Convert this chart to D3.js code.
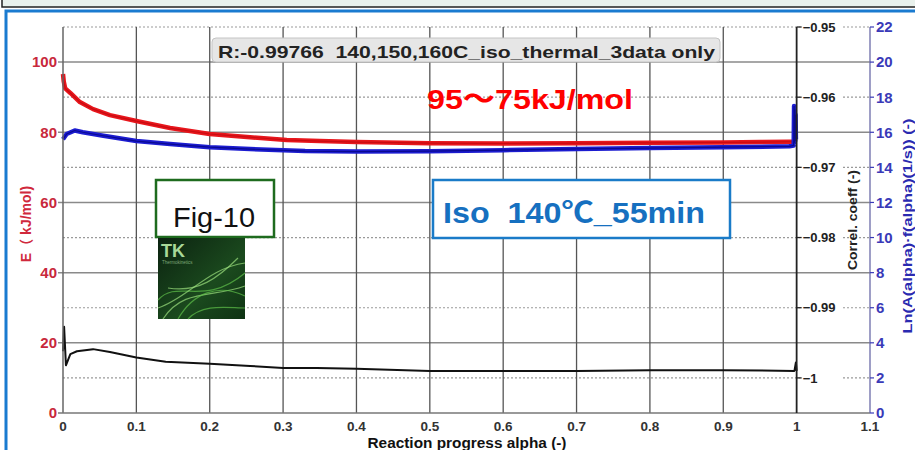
<!DOCTYPE html>
<html><head>
<meta charset="utf-8">
<script src="https://cdnjs.cloudflare.com/ajax/libs/d3/7.8.5/d3.min.js"></script>
<style>
  body { margin: 0; background: #fff; }
  svg text { font-family: "Liberation Sans", Arial, "Noto Sans CJK JP", sans-serif; white-space: pre; }
</style>
</head>
<body>
<script>
// ---- data ----
var xTicks = [0, 0.1, 0.2, 0.3, 0.4, 0.5, 0.6, 0.7, 0.8, 0.9, 1, 1.1];
var eTicks = [0, 20, 40, 60, 80, 100];
var lnTicks = [0, 2, 4, 6, 8, 10, 12, 14, 16, 18, 20, 22];
var corrTicks = [-0.95, -0.96, -0.97, -0.98, -0.99, -1];

// activation energy E (kJ/mol), left axis
var alphaE = [0, 0.001, 0.003, 0.01, 0.023, 0.041, 0.064, 0.1, 0.146, 0.2, 0.255, 0.305, 0.35, 0.4, 0.5, 0.6, 0.7, 0.8, 0.9, 0.95, 0.99, 0.997];
var energy = [96.6, 94.5, 92.5, 91.2, 88.6, 86.6, 84.9, 83.2, 81.2, 79.5, 78.6, 77.8, 77.5, 77.2, 76.9, 76.8, 76.9, 77.0, 77.1, 77.2, 77.3, 77.3];

// Ln(A*f(alpha)), right blue axis
var alphaLn = [0, 0.005, 0.016, 0.027, 0.055, 0.1, 0.146, 0.2, 0.255, 0.33, 0.4, 0.5, 0.6, 0.7, 0.8, 0.9, 0.99, 0.996, 0.9965, 0.997, 0.9975, 0.998, 0.9985, 0.999];
var lnAf = [15.6, 15.9, 16.1, 16.0, 15.8, 15.5, 15.33, 15.15, 15.04, 14.93, 14.9, 14.92, 14.98, 15.05, 15.1, 15.15, 15.2, 15.25, 17.5, 15.4, 17.3, 15.5, 17.0, 15.6];

// correlation coefficient, axis at alpha = 1
var alphaR = [0, 0.0015, 0.004, 0.01, 0.019, 0.041, 0.064, 0.1, 0.14, 0.2, 0.255, 0.3, 0.346, 0.4, 0.5, 0.6, 0.7, 0.8, 0.9, 0.997, 0.999, 1.0];
var corr = [-0.9962, -0.9927, -0.9982, -0.9966, -0.9962, -0.9959, -0.9963, -0.9971, -0.9977, -0.9980, -0.9983, -0.9986, -0.9986, -0.9987, -0.9990, -0.9990, -0.9990, -0.9989, -0.9989, -0.9990, -0.9978, -0.9990];

var W = 915, H = 450;
var svg = d3.select("body").append("svg").attr("width", W).attr("height", H);

// frame
svg.append("rect").attr("x", 2).attr("y", -2).attr("width", W).attr("height", 9)
  .attr("fill", "#e9f1ec").attr("stroke", "#222").attr("stroke-width", 1.5);
svg.append("rect").attr("x", 6).attr("y", 11).attr("width", W).attr("height", H)
  .attr("fill", "#fff").attr("stroke", "#1a7bd0").attr("stroke-width", 3);

var x = d3.scaleLinear().domain([0, 1.1]).range([63, 870]);
var yE = d3.scaleLinear().domain([0, 110]).range([413, 27]);
var yLn = d3.scaleLinear().domain([0, 22]).range([413, 27]);
var yR = d3.scaleLinear().domain([-1.005, -0.95]).range([413, 27]);

var grid = svg.append("g");
// dotted horizontal lines at odd tens
[10, 30, 50, 70, 90, 110].forEach(function(v) {
  grid.append("line").attr("x1", x(0)).attr("x2", x(1.1)).attr("y1", yE(v)).attr("y2", yE(v))
    .attr("stroke", "#9a9a9a").attr("stroke-width", 1.2).attr("stroke-dasharray", "2,2");
});
// solid horizontal lines
eTicks.slice(1).forEach(function(v) {
  grid.append("line").attr("x1", x(0) - 5).attr("x2", x(1.1)).attr("y1", yE(v)).attr("y2", yE(v))
    .attr("stroke", "#8a8a8a").attr("stroke-width", 1.5);
});
// vertical lines
xTicks.slice(1, 10).forEach(function(v) {
  grid.append("line").attr("x1", x(v)).attr("x2", x(v)).attr("y1", yE(110)).attr("y2", yE(0))
    .attr("stroke", "#555").attr("stroke-width", 1.3);
});

// curves
var lineE = d3.line().x(function(d, i) { return x(alphaE[i]); }).y(function(d) { return yE(d); });
var lineLn = d3.line().x(function(d, i) { return x(alphaLn[i]); }).y(function(d) { return yLn(d); });
var lineR = d3.line().x(function(d, i) { return x(alphaR[i]); }).y(function(d) { return yR(d); });

svg.append("path").attr("d", lineE(energy)).attr("fill", "none")
  .attr("stroke", "#e8161c").attr("stroke-width", 4.5).attr("stroke-linejoin", "round");
svg.append("path").attr("d", lineE(energy)).attr("fill", "none")
  .attr("stroke", "#c80c12").attr("stroke-width", 1.2);
svg.append("path").attr("d", lineLn(lnAf)).attr("fill", "none")
  .attr("stroke", "#1c1cd0").attr("stroke-width", 4.5).attr("stroke-linejoin", "round");
svg.append("path").attr("d", lineLn(lnAf)).attr("fill", "none")
  .attr("stroke", "#0a0a90").attr("stroke-width", 1.2);
svg.append("path").attr("d", lineR(corr)).attr("fill", "none")
  .attr("stroke", "#111").attr("stroke-width", 2).attr("stroke-linejoin", "round");

// axes lines
svg.append("line").attr("x1", x(0)).attr("x2", x(0)).attr("y1", yE(110)).attr("y2", yE(0))
  .attr("stroke", "#666").attr("stroke-width", 1.5);
svg.append("line").attr("x1", x(0) - 5).attr("x2", x(1.1)).attr("y1", yE(0)).attr("y2", yE(0))
  .attr("stroke", "#777").attr("stroke-width", 1.5);
svg.append("line").attr("x1", x(1.1)).attr("x2", x(1.1)).attr("y1", yE(110)).attr("y2", yE(0))
  .attr("stroke", "#6a6aa8").attr("stroke-width", 1.3);
svg.append("line").attr("x1", x(1)).attr("x2", x(1)).attr("y1", yE(110)).attr("y2", yE(0))
  .attr("stroke", "#222").attr("stroke-width", 1.8);

// left axis labels
eTicks.forEach(function(v) {
  svg.append("text").attr("x", 57).attr("y", yE(v)).attr("dy", "0.36em").attr("text-anchor", "end")
    .attr("font-size", 15).attr("font-weight", "bold").attr("fill", "#c8283c").text(v);
});
// x labels
xTicks.forEach(function(v) {
  svg.append("text").attr("x", x(v)).attr("y", 431).attr("text-anchor", "middle")
    .attr("font-size", 13.5).attr("font-weight", "bold").attr("fill", "#333").text(d3.format("~g")(v));
});
// corr axis ticks
corrTicks.forEach(function(v) {
  var g = svg.append("g");
  g.append("rect").attr("x", x(1) + 3).attr("y", yR(v) - 7).attr("width", 42).attr("height", 14).attr("fill", "#fff");
  g.append("line").attr("x1", x(1)).attr("x2", x(1) + 5).attr("y1", yR(v)).attr("y2", yR(v)).attr("stroke", "#222").attr("stroke-width", 1.3);
  g.append("text").attr("x", x(1) + 6).attr("y", yR(v)).attr("dy", "0.36em")
    .attr("font-size", 13).attr("font-weight", "bold").attr("fill", "#222").text(d3.format("~g")(v));
});
// right blue axis
lnTicks.forEach(function(v) {
  svg.append("line").attr("x1", x(1.1)).attr("x2", x(1.1) + 4).attr("y1", yLn(v)).attr("y2", yLn(v))
    .attr("stroke", "#3a3ab8").attr("stroke-width", 1.2);
  svg.append("text").attr("x", x(1.1) + 6).attr("y", yLn(v)).attr("dy", "0.36em")
    .attr("font-size", 15).attr("font-weight", "bold").attr("fill", "#3a3ab8").text(v);
});

// axis titles
svg.append("text").attr("x", 467).attr("y", 448).attr("text-anchor", "middle")
  .attr("font-size", 14).attr("font-weight", "bold").attr("fill", "#111")
  .attr("textLength", 199).attr("lengthAdjust", "spacingAndGlyphs").text("Reaction progress alpha (-)");
svg.append("text").attr("transform", "translate(31,224) rotate(-90)").attr("text-anchor", "middle")
  .attr("font-size", 14).attr("font-weight", "bold").attr("fill", "#d0283c").text("E（ kJ/mol)");
svg.append("text").attr("transform", "translate(857,220) rotate(-90)").attr("text-anchor", "middle")
  .attr("font-size", 13.5).attr("font-weight", "bold").attr("fill", "#222")
  .attr("textLength", 100).attr("lengthAdjust", "spacingAndGlyphs").text("Correl. coeff (-)");
svg.append("text").attr("transform", "translate(912,226) rotate(-90)").attr("text-anchor", "middle")
  .attr("font-size", 13.5).attr("font-weight", "bold").attr("fill", "#2a2ab0")
  .attr("textLength", 215).attr("lengthAdjust", "spacingAndGlyphs").text("Ln(A(alpha)·f(alpha)(1/s)) (-)");

// title box
svg.append("rect").attr("x", 212).attr("y", 38).attr("width", 508).attr("height", 24).attr("rx", 4)
  .attr("fill", "#e6e6e6").attr("stroke", "#c4c4c4");
svg.append("text").attr("x", 218).attr("y", 58).attr("font-size", 17).attr("font-weight", "bold")
  .attr("fill", "#222").attr("textLength", 497).attr("lengthAdjust", "spacingAndGlyphs")
  .text("R:-0.99766  140,150,160C_iso_thermal_3data only");

// annotations
svg.append("text").attr("x", 427).attr("y", 109).attr("font-size", 28).attr("font-weight", "bold")
  .attr("fill", "#ff0000").attr("textLength", 206).attr("lengthAdjust", "spacingAndGlyphs").text("95～75kJ/mol");

svg.append("rect").attr("x", 433).attr("y", 180).attr("width", 297).attr("height", 58)
  .attr("fill", "#fff").attr("stroke", "#1a7bc8").attr("stroke-width", 2.5);
svg.append("text").attr("x", 443).attr("y", 223).attr("font-size", 29).attr("font-weight", "bold")
  .attr("fill", "#1670c0").attr("textLength", 262).attr("lengthAdjust", "spacingAndGlyphs").text("Iso  140℃_55min");

svg.append("rect").attr("x", 156).attr("y", 180).attr("width", 118).attr("height", 57)
  .attr("fill", "#fff").attr("stroke", "#1e6b1e").attr("stroke-width", 2.5);
svg.append("text").attr("x", 173).attr("y", 227).attr("font-size", 28)
  .attr("fill", "#111").attr("textLength", 82).attr("lengthAdjust", "spacingAndGlyphs").text("Fig-10");

// TK cover thumbnail
var defs = svg.append("defs");
var gr = defs.append("linearGradient").attr("id", "tkbg").attr("x1", 0).attr("y1", 0).attr("x2", 1).attr("y2", 1);
gr.append("stop").attr("offset", 0).attr("stop-color", "#0b2210");
gr.append("stop").attr("offset", 0.6).attr("stop-color", "#1b4a1e");
gr.append("stop").attr("offset", 1).attr("stop-color", "#0f3313");
var tk = svg.append("g").attr("transform", "translate(158,238)");
tk.append("rect").attr("width", 87).attr("height", 81).attr("fill", "url(#tkbg)");
["M0,62 C20,40 45,70 87,35", "M5,81 C25,50 55,60 87,48", "M20,81 C35,55 60,45 87,58",
 "M0,70 C30,60 50,30 87,25", "M30,81 C45,65 70,70 87,70", "M10,50 C40,55 60,40 80,20"].forEach(function(d, i) {
  tk.append("path").attr("d", d).attr("fill", "none").attr("stroke", i % 2 ? "#9be07e" : "#5fc04a")
    .attr("stroke-width", 1.2).attr("opacity", 0.7);
});
tk.append("text").attr("x", 3).attr("y", 19).attr("font-size", 18).attr("font-weight", "bold")
  .attr("fill", "#a8d898").text("TK");
tk.append("text").attr("x", 4).attr("y", 26).attr("font-size", 4.5).attr("fill", "#7ea878").text("Thermokinetics");
</script>
</body></html>
